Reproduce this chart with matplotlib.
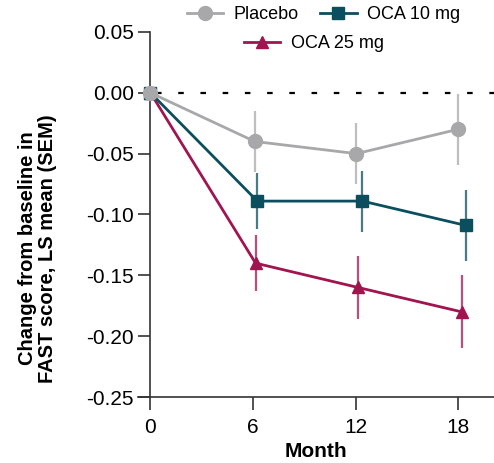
import matplotlib.pyplot as plt
from matplotlib.lines import Line2D

plt.rcParams['font.family'] = ['Liberation Sans', 'DejaVu Sans']

# Data (months slightly offset per group, as in the original)
month_ticks = [0, 6, 12, 18]
y_ticks = [-0.25, -0.20, -0.15, -0.10, -0.05, 0.00, 0.05]
y_tick_labels = ['-0.25', '-0.20', '-0.15', '-0.10', '-0.05', '0.00', '0.05']

placebo_x = [0, 6.1, 12.05, 18.0]
placebo_y = [0.0, -0.04, -0.05, -0.03]
placebo_sem = [0.0, 0.025, 0.025, 0.029]

oca10_x = [0, 6.25, 12.4, 18.45]
oca10_y = [0.0, -0.089, -0.089, -0.109]
oca10_sem = [0.0, 0.023, 0.025, 0.029]

oca25_x = [0, 6.15, 12.15, 18.2]
oca25_y = [0.0, -0.14, -0.16, -0.18]
oca25_sem = [0.0, 0.023, 0.026, 0.030]

grey = '#a8a8ab'
teal = '#0b4f5e'
crimson = '#a01450'

fig = plt.figure(figsize=(4.94, 4.63), dpi=100)
ax = fig.add_axes([0.279, 0.1425, 0.721, 0.7885])


def draw(x, y, sem, color, marker, ms, z):
    ax.errorbar(x[1:], y[1:], yerr=sem[1:], fmt='none', ecolor=color,
                elinewidth=1.6, alpha=0.75, capsize=0, zorder=z)
    ax.plot(x, y, color=color, lw=2.0, marker=marker, ms=ms,
            zorder=z + 0.5, clip_on=False)


draw(oca25_x, oca25_y, oca25_sem, crimson, '^', 9, 3)
draw(oca10_x, oca10_y, oca10_sem, teal, 's', 9, 4)
draw(placebo_x, placebo_y, placebo_sem, grey, 'o', 10, 5)

# dotted reference line at zero
ax.plot([0.3, 20.1], [0, 0], color='black', lw=1.6, ls=(0, (2.5, 7.5)), zorder=2)

ax.set_xlim(-0.74, 20.1)
ax.set_ylim(-0.25, 0.05)
ax.set_xticks(month_ticks)
ax.set_yticks(y_ticks)
ax.set_yticklabels(y_tick_labels)

ax.spines['top'].set_visible(False)
ax.spines['right'].set_visible(False)
ax.spines['left'].set_position(('data', 0))
for s in ('left', 'bottom'):
    ax.spines[s].set_linewidth(1.2)
    ax.spines[s].set_color('#333333')
ax.tick_params(axis='y', length=9, width=1.2, color='#333333', labelsize=15, pad=3)
ax.tick_params(axis='x', length=9, width=1.2, color='#333333', labelsize=15, pad=6)

ax.set_xlabel('Month', fontsize=15, fontweight='bold', labelpad=4)
fig.text(0.076, 0.4635, 'Change from baseline in\nFAST score, LS mean (SEM)',
         rotation=90, ha='center', va='center', fontsize=14.5, fontweight='bold',
         linespacing=1.1)

h_pl = Line2D([], [], color=grey, lw=2.0, marker='o', ms=10)
h_10 = Line2D([], [], color=teal, lw=2.0, marker='s', ms=9)
h_25 = Line2D([], [], color=crimson, lw=2.0, marker='^', ms=9)
fig.legend([h_pl, h_10], ['Placebo', 'OCA 10 mg'], ncol=2, loc='center',
           bbox_to_anchor=(0.655, 0.968), frameon=False, fontsize=13,
           handlelength=2.0, handletextpad=0.6, columnspacing=1.2,
           borderaxespad=0, borderpad=0)
fig.legend([h_25], ['OCA 25 mg'], loc='center', bbox_to_anchor=(0.635, 0.906),
           frameon=False, fontsize=13, handlelength=2.0, handletextpad=0.6,
           borderaxespad=0, borderpad=0)

fig.savefig('out.png', dpi=100)
